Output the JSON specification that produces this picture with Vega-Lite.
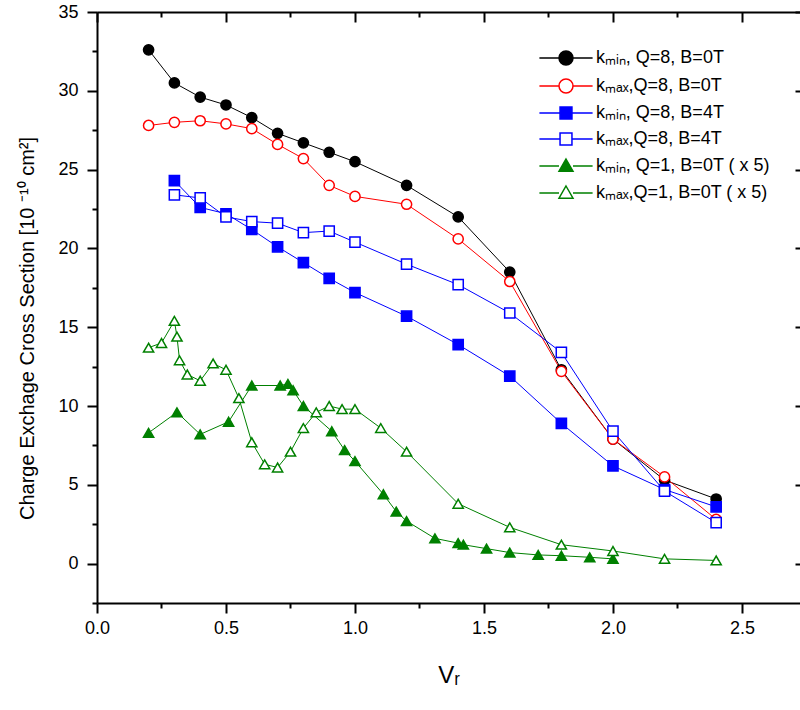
{
  "$schema": "https://vega.github.io/schema/vega-lite/v6.json",
  "width": 703,
  "height": 591,
  "autosize": "none",
  "padding": {"left": 97, "top": 12, "right": 0, "bottom": 107},
  "config": {
    "font": "Liberation Sans",
    "view": {"stroke": null},
    "axis": {
      "grid": false,
      "domainColor": "black",
      "tickColor": "black",
      "labelColor": "black",
      "titleColor": "black",
      "labelFont": "Liberation Sans",
      "titleFont": "Liberation Sans",
      "titleFontWeight": "normal",
      "labelFontSize": 18,
      "labelFlush": false,
      "domainWidth": 2,
      "tickWidth": 2
    }
  },
  "data": {
    "values": [
      {"s": "A", "x": 0.2, "y": 32.6}, {"s": "A", "x": 0.3, "y": 30.5}, {"s": "A", "x": 0.4, "y": 29.6}, {"s": "A", "x": 0.5, "y": 29.1},
      {"s": "A", "x": 0.6, "y": 28.3}, {"s": "A", "x": 0.7, "y": 27.3}, {"s": "A", "x": 0.8, "y": 26.7}, {"s": "A", "x": 0.9, "y": 26.1},
      {"s": "A", "x": 1.0, "y": 25.5}, {"s": "A", "x": 1.2, "y": 24.0}, {"s": "A", "x": 1.4, "y": 22.0}, {"s": "A", "x": 1.6, "y": 18.5},
      {"s": "A", "x": 1.8, "y": 12.3}, {"s": "A", "x": 2.0, "y": 7.9}, {"s": "A", "x": 2.2, "y": 5.3}, {"s": "A", "x": 2.4, "y": 4.1},
      {"s": "B", "x": 0.2, "y": 27.8}, {"s": "B", "x": 0.3, "y": 28.0}, {"s": "B", "x": 0.4, "y": 28.1}, {"s": "B", "x": 0.5, "y": 27.9},
      {"s": "B", "x": 0.6, "y": 27.6}, {"s": "B", "x": 0.7, "y": 26.6}, {"s": "B", "x": 0.8, "y": 25.7}, {"s": "B", "x": 0.9, "y": 24.0},
      {"s": "B", "x": 1.0, "y": 23.3}, {"s": "B", "x": 1.2, "y": 22.8}, {"s": "B", "x": 1.4, "y": 20.6}, {"s": "B", "x": 1.6, "y": 17.9},
      {"s": "B", "x": 1.8, "y": 12.2}, {"s": "B", "x": 2.0, "y": 7.9}, {"s": "B", "x": 2.2, "y": 5.5}, {"s": "B", "x": 2.4, "y": 2.8},
      {"s": "C", "x": 0.3, "y": 24.3}, {"s": "C", "x": 0.4, "y": 22.6}, {"s": "C", "x": 0.5, "y": 22.2}, {"s": "C", "x": 0.6, "y": 21.2},
      {"s": "C", "x": 0.7, "y": 20.1}, {"s": "C", "x": 0.8, "y": 19.1}, {"s": "C", "x": 0.9, "y": 18.1}, {"s": "C", "x": 1.0, "y": 17.2},
      {"s": "C", "x": 1.2, "y": 15.7}, {"s": "C", "x": 1.4, "y": 13.9}, {"s": "C", "x": 1.6, "y": 11.9}, {"s": "C", "x": 1.8, "y": 8.9},
      {"s": "C", "x": 2.0, "y": 6.2}, {"s": "C", "x": 2.2, "y": 4.7}, {"s": "C", "x": 2.4, "y": 3.6},
      {"s": "D", "x": 0.3, "y": 23.4}, {"s": "D", "x": 0.4, "y": 23.2}, {"s": "D", "x": 0.5, "y": 22.0}, {"s": "D", "x": 0.6, "y": 21.7},
      {"s": "D", "x": 0.7, "y": 21.6}, {"s": "D", "x": 0.8, "y": 21.0}, {"s": "D", "x": 0.9, "y": 21.1}, {"s": "D", "x": 1.0, "y": 20.4},
      {"s": "D", "x": 1.2, "y": 19.0}, {"s": "D", "x": 1.4, "y": 17.7}, {"s": "D", "x": 1.6, "y": 15.9}, {"s": "D", "x": 1.8, "y": 13.4},
      {"s": "D", "x": 2.0, "y": 8.4}, {"s": "D", "x": 2.2, "y": 4.6}, {"s": "D", "x": 2.4, "y": 2.6},
      {"s": "E", "x": 0.2, "y": 8.3}, {"s": "E", "x": 0.31, "y": 9.6}, {"s": "E", "x": 0.4, "y": 8.2}, {"s": "E", "x": 0.51, "y": 9.0},
      {"s": "E", "x": 0.6, "y": 11.3}, {"s": "E", "x": 0.71, "y": 11.3}, {"s": "E", "x": 0.74, "y": 11.4}, {"s": "E", "x": 0.76, "y": 11.0},
      {"s": "E", "x": 0.8, "y": 10.0}, {"s": "E", "x": 0.91, "y": 8.4}, {"s": "E", "x": 0.96, "y": 7.2}, {"s": "E", "x": 1.0, "y": 6.5},
      {"s": "E", "x": 1.11, "y": 4.4}, {"s": "E", "x": 1.16, "y": 3.3}, {"s": "E", "x": 1.2, "y": 2.7}, {"s": "E", "x": 1.31, "y": 1.6},
      {"s": "E", "x": 1.4, "y": 1.3}, {"s": "E", "x": 1.42, "y": 1.2}, {"s": "E", "x": 1.51, "y": 0.95}, {"s": "E", "x": 1.6, "y": 0.7},
      {"s": "E", "x": 1.71, "y": 0.55}, {"s": "E", "x": 1.8, "y": 0.5}, {"s": "E", "x": 1.91, "y": 0.4}, {"s": "E", "x": 2.0, "y": 0.3},
      {"s": "F", "x": 0.2, "y": 13.7}, {"s": "F", "x": 0.25, "y": 14.0}, {"s": "F", "x": 0.3, "y": 15.4}, {"s": "F", "x": 0.31, "y": 14.4},
      {"s": "F", "x": 0.32, "y": 12.9}, {"s": "F", "x": 0.35, "y": 12.0}, {"s": "F", "x": 0.4, "y": 11.6}, {"s": "F", "x": 0.45, "y": 12.7},
      {"s": "F", "x": 0.5, "y": 12.3}, {"s": "F", "x": 0.55, "y": 10.5}, {"s": "F", "x": 0.6, "y": 7.7}, {"s": "F", "x": 0.65, "y": 6.3},
      {"s": "F", "x": 0.7, "y": 6.1}, {"s": "F", "x": 0.75, "y": 7.1}, {"s": "F", "x": 0.8, "y": 8.6}, {"s": "F", "x": 0.85, "y": 9.6},
      {"s": "F", "x": 0.9, "y": 10.0}, {"s": "F", "x": 0.95, "y": 9.8}, {"s": "F", "x": 1.0, "y": 9.8}, {"s": "F", "x": 1.1, "y": 8.6},
      {"s": "F", "x": 1.2, "y": 7.1}, {"s": "F", "x": 1.4, "y": 3.8}, {"s": "F", "x": 1.6, "y": 2.3}, {"s": "F", "x": 1.8, "y": 1.2},
      {"s": "F", "x": 2.0, "y": 0.8}, {"s": "F", "x": 2.2, "y": 0.3}, {"s": "F", "x": 2.4, "y": 0.2}
    ]
  },
  "layer": [
    {
      "mark": {"type": "line", "strokeWidth": 1},
      "encoding": {
        "x": {"field": "x", "type": "quantitative", "scale": {"domain": [0, 2.725], "nice": false, "zero": false},
          "axis": {"orient": "bottom", "values": [0, 0.5, 1, 1.5, 2, 2.5], "format": ".1f", "tickSize": 10, "labelPadding": 6,
            "title": "Vᵣ", "titleFontSize": 24, "titlePadding": 26}},
        "y": {"field": "y", "type": "quantitative", "scale": {"domain": [-2.5, 35], "nice": false, "zero": false},
          "axis": {"orient": "left", "values": [0, 5, 10, 15, 20, 25, 30, 35], "tickSize": 10, "labelPadding": 9,
            "title": "Charge Exchage Cross Section [10  ⁻¹⁰ cm²]", "titleFontSize": 20, "titlePadding": 20, "titleY": 316, "titleLimit": 600}},
        "color": {"field": "s", "type": "nominal", "legend": null,
          "scale": {"domain": ["A", "B", "C", "D", "E", "F"], "range": ["#000000", "#ff0000", "#0000ff", "#0000ff", "#008000", "#008000"]}}
      }
    },
    {
      "mark": {"type": "point", "filled": false, "strokeWidth": 1.5, "opacity": 1},
      "encoding": {
        "x": {"field": "x", "type": "quantitative", "scale": {"domain": [0, 2.725], "nice": false, "zero": false},
          "axis": {"orient": "bottom", "values": [0.25, 0.75, 1.25, 1.75, 2.25], "labels": false, "domain": false, "tickSize": 5, "title": null}},
        "y": {"field": "y", "type": "quantitative", "scale": {"domain": [-2.5, 35], "nice": false, "zero": false},
          "axis": {"orient": "left", "values": [-2.5, 2.5, 7.5, 12.5, 17.5, 22.5, 27.5, 32.5], "labels": false, "domain": false, "tickSize": 5, "title": null}},
        "stroke": {"field": "s", "type": "nominal", "legend": null,
          "scale": {"domain": ["A", "B", "C", "D", "E", "F"], "range": ["#000000", "#ff0000", "#0000ff", "#0000ff", "#008000", "#008000"]}},
        "fill": {"field": "s", "type": "nominal", "legend": null,
          "scale": {"domain": ["A", "B", "C", "D", "E", "F"], "range": ["#000000", "#ffffff", "#0000ff", "#ffffff", "#008000", "#ffffff"]}},
        "shape": {"field": "s", "type": "nominal", "legend": null,
          "scale": {"domain": ["A", "B", "C", "D", "E", "F"], "range": ["circle", "circle", "square", "square", "triangle-up", "triangle-up"]}},
        "size": {"field": "s", "type": "ordinal", "legend": null,
          "scale": {"domain": ["A", "B", "C", "D", "E", "F"], "range": [104, 104, 100, 100, 165, 165]}}
      }
    },
    {
      "transform": [{"filter": "false"}],
      "mark": {"type": "point", "filled": false, "strokeWidth": 1.5, "opacity": 1},
      "encoding": {
        "x": {"field": "x", "type": "quantitative", "scale": {"domain": [0, 2.725], "nice": false, "zero": false},
          "axis": {"orient": "top", "values": [0, 0.5, 1, 1.5, 2, 2.5], "labels": false, "tickSize": -10, "title": null}},
        "y": {"field": "y", "type": "quantitative", "scale": {"domain": [-2.5, 35], "nice": false, "zero": false},
          "axis": {"orient": "right", "values": [0, 5, 10, 15, 20, 25, 30, 35], "labels": false, "domain": false, "tickSize": -5, "title": null}},
        "stroke": {"field": "s", "type": "nominal",
          "scale": {"domain": ["A", "B", "C", "D", "E", "F"], "range": ["#000000", "#ff0000", "#0000ff", "#0000ff", "#008000", "#008000"]},
          "legend": {"orient": "none", "legendX": 460, "legendY": 37, "title": null, "labelFontSize": 18, "labelOffset": 21, "symbolSize": 196, "symbolStrokeWidth": 1.5, "rowPadding": 8, "labelLimit": 0, "symbolOpacity": 1, "labelColor": "black",
            "labelExpr": "{'A':'kₘᵢₙ, Q=8, B=0T','B':'kₘₐₓ,Q=8, B=0T','C':'kₘᵢₙ, Q=8, B=4T','D':'kₘₐₓ,Q=8, B=4T','E':'kₘᵢₙ, Q=1, B=0T ( x 5)','F':'kₘₐₓ,Q=1, B=0T ( x 5)'}[datum.label]"}},
        "fill": {"field": "s", "type": "nominal",
          "scale": {"domain": ["A", "B", "C", "D", "E", "F"], "range": ["#000000", "#ffffff", "#0000ff", "#ffffff", "#008000", "#ffffff"]},
          "legend": {"orient": "none", "legendX": 460, "legendY": 37, "title": null, "labelFontSize": 18, "labelOffset": 21, "symbolSize": 196, "symbolStrokeWidth": 1.5, "rowPadding": 8, "labelLimit": 0, "symbolOpacity": 1, "labelColor": "black",
            "labelExpr": "{'A':'kₘᵢₙ, Q=8, B=0T','B':'kₘₐₓ,Q=8, B=0T','C':'kₘᵢₙ, Q=8, B=4T','D':'kₘₐₓ,Q=8, B=4T','E':'kₘᵢₙ, Q=1, B=0T ( x 5)','F':'kₘₐₓ,Q=1, B=0T ( x 5)'}[datum.label]"}},
        "shape": {"field": "s", "type": "nominal",
          "scale": {"domain": ["A", "B", "C", "D", "E", "F"], "range": [
            "M-3.8,0H-1M1,0H3.8M-1,0A1,1,0,1,1,1,0A1,1,0,1,1,-1,0Z",
            "M-3.8,0H-1M1,0H3.8M-1,0A1,1,0,1,1,1,0A1,1,0,1,1,-1,0Z",
            "M-3.8,0H-0.85M0.85,0H3.8M-0.85,-0.85H0.85V0.85H-0.85Z",
            "M-3.8,0H-0.85M0.85,0H3.8M-0.85,-0.85H0.85V0.85H-0.85Z",
            "M-3.8,0H-1M1,0H3.8M0,-1L1,0.75H-1Z",
            "M-3.8,0H-1M1,0H3.8M0,-1L1,0.75H-1Z"]},
          "legend": {"orient": "none", "legendX": 460, "legendY": 37, "title": null, "labelFontSize": 18, "labelOffset": 21, "symbolSize": 196, "symbolStrokeWidth": 1.5, "rowPadding": 8, "labelLimit": 0, "symbolOpacity": 1, "labelColor": "black",
            "labelExpr": "{'A':'kₘᵢₙ, Q=8, B=0T','B':'kₘₐₓ,Q=8, B=0T','C':'kₘᵢₙ, Q=8, B=4T','D':'kₘₐₓ,Q=8, B=4T','E':'kₘᵢₙ, Q=1, B=0T ( x 5)','F':'kₘₐₓ,Q=1, B=0T ( x 5)'}[datum.label]"}}
      }
    },
    {
      "transform": [{"filter": "false"}],
      "mark": {"type": "point", "opacity": 1},
      "encoding": {
        "x": {"field": "x", "type": "quantitative", "scale": {"domain": [0, 2.725], "nice": false, "zero": false},
          "axis": {"orient": "top", "values": [0.25, 0.75, 1.25, 1.75, 2.25], "labels": false, "domain": false, "tickSize": -5, "title": null}},
        "y": {"field": "y", "type": "quantitative", "scale": {"domain": [-2.5, 35], "nice": false, "zero": false}, "axis": null}
      }
    }
  ],
  "resolve": {
    "scale": {"color": "independent", "stroke": "independent", "fill": "independent", "shape": "independent", "size": "independent"},
    "axis": {"x": "independent", "y": "independent"}
  }
}
